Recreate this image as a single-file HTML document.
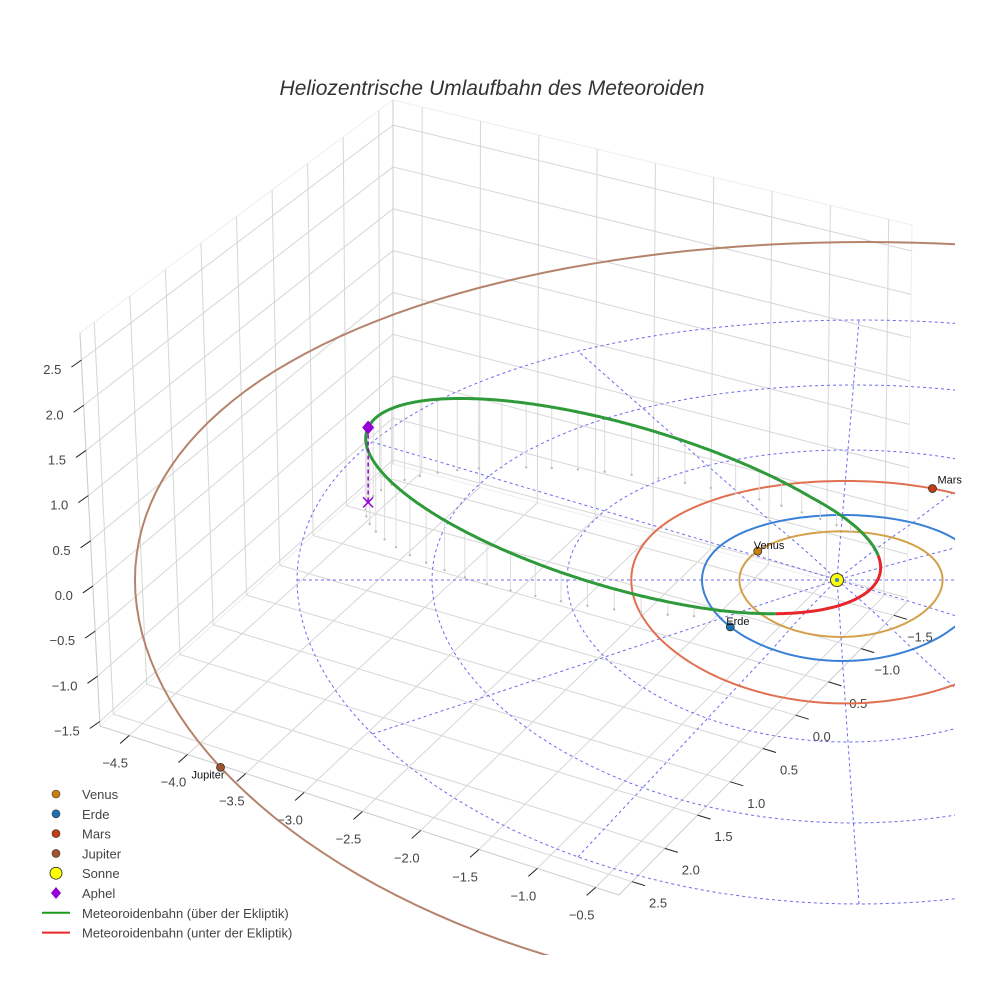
<!DOCTYPE html>
<html><head><meta charset="utf-8"><style>
html,body{margin:0;padding:0;background:#fff}
svg{display:block;font-family:"Liberation Sans",sans-serif}
</style></head><body>
<svg id="chart" width="984" height="984" viewBox="0 0 984 984" xmlns="http://www.w3.org/2000/svg">
<rect width="984" height="984" fill="#fff"/>
<defs><clipPath id="clipData"><rect x="0" y="0" width="955" height="955"/></clipPath></defs>
<text x="492" y="95" text-anchor="middle" font-size="21" font-style="italic" fill="#333">Heliozentrische Umlaufbahn des Meteoroiden</text>
<g id="box"></g>
<g id="ticks"></g>
<g id="data" clip-path="url(#clipData)"></g>
<g id="labels"></g>
<g id="legend"></g>
</svg>
<script>
// ---- data arrays ----
const zTicks = [-1.5,-1.0,-0.5,0.0,0.5,1.0,1.5,2.0,2.5];
const xTicks = [-4.5,-4.0,-3.5,-3.0,-2.5,-2.0,-1.5,-1.0,-0.5];
const yTicks = [2.5,2.0,1.5,1.0,0.5,0.0,-0.5,-1.0,-1.5];
const planetNames = ["Venus","Erde","Mars","Jupiter"];
const planetRadii = [0.723,1.0,1.524,5.2];
const planetAngles = [145,217,66,208];
const planetOrbitColors = ["#d4a04a","#3a80d6","#e07050","#b5836b"];
const planetMarkerColors = ["#c8800f","#1f6fb4","#c43c16","#a0522d"];
const ringRadii = [1,2,3,4];
const spokeAngles = [0,30,60,90,120,150];
const meteoroidCenter = [-1.60,0.585,0.4];
const meteoroidMajor = [1.88,-0.515,-0.45];
const meteoroidMinor = [0.25,0.93,0.12];

const NS='http://www.w3.org/2000/svg';
function el(tag, attrs, parent){const e=document.createElementNS(NS,tag);for(const k in attrs)e.setAttribute(k,attrs[k]);parent.appendChild(e);return e;}
const box=document.getElementById('box'), ticksG=document.getElementById('ticks'), data=document.getElementById('data'), legend=document.getElementById('legend'), labelsG=document.getElementById('labels');

const L=[100,726],F=[619,895],R=[907,602],B=[393,464],Bt=[393,100],Lt=[80,333],Rt=[912,225];
const XMIN=-4.75,XMAX=-0.3,YF=2.7,YB=-1.7,ZMIN=-1.55,ZMAX=2.8;
function bil(p00,p10,p11,p01,s,t){
  return [p00[0]*(1-s)*(1-t)+p10[0]*s*(1-t)+p11[0]*s*t+p01[0]*(1-s)*t,
          p00[1]*(1-s)*(1-t)+p10[1]*s*(1-t)+p11[1]*s*t+p01[1]*(1-s)*t];}
const sx=x=>(x-XMIN)/(XMAX-XMIN), ty=y=>(YF-y)/(YF-YB), tz=z=>(z-ZMIN)/(ZMAX-ZMIN);
function gl(a,b,col){const l=el('line',{x1:a[0],y1:a[1],x2:b[0],y2:b[1],stroke:col||'#d6d6d6','stroke-width':1},box);return l;}
el('polygon',{points:[L,B,Bt,Lt].map(p=>p.join(',')).join(' '),fill:'#fff',stroke:'#eee'},box);
el('polygon',{points:[B,R,Rt,Bt].map(p=>p.join(',')).join(' '),fill:'#fff',stroke:'#eee'},box);
for(const z of zTicks){const t=tz(z);
  const g1=gl(bil(L,B,Bt,Lt,0,t),bil(L,B,Bt,Lt,1,t));
  
  
  const g2=gl(bil(B,R,Rt,Bt,0,t),bil(B,R,Rt,Bt,1,t));
  
  }
for(const y of yTicks){const s=ty(y);
  const g=gl(bil(L,B,Bt,Lt,s,0),bil(L,B,Bt,Lt,s,1));
  
  
  const f=gl(bil(L,F,R,B,0,s),bil(L,F,R,B,1,s));
  
  }
for(const x of xTicks){const s=sx(x);
  const g=gl(bil(B,R,Rt,Bt,s,0),bil(B,R,Rt,Bt,s,1));
  
  
  const f=gl(bil(L,F,R,B,s,0),bil(L,F,R,B,s,1));
  
  }
[[L,F],[F,R],[L,Lt],[B,Bt]].forEach(p=>{const e=gl(p[0],p[1],'#ccc');});

function tk(p,dx,dy,lab,lx,ly,anchor){
  const l=el('line',{x1:p[0],y1:p[1],x2:p[0]+dx,y2:p[1]+dy,stroke:'#222','stroke-width':1},ticksG);
  
  
  const t=el('text',{x:p[0]+lx,y:p[1]+ly,'font-size':13,fill:'#444','text-anchor':anchor},ticksG);
  t.textContent=lab;
  
  }
const fmt=v=>(v<0?'\u2212':'')+Math.abs(v).toFixed(1);
for(const z of zTicks){tk(bil(L,B,Bt,Lt,0,tz(z)),-10,7,fmt(z),-20,14,'end');}
for(const x of xTicks){tk(bil(L,F,R,B,sx(x),0),-9,8,fmt(x),-14,32,'middle');}
for(const y of yTicks){tk(bil(L,F,R,B,1,ty(y)),13,4,fmt(y),26,26,'middle');}

function proj(x,y,z){const r=Math.hypot(x,y);const ky=73-8*(y/Math.max(r,1));
  return [837+5.5*r+140.5*x, 580-ky*y-88*z];}
function pathFrom(pts){return 'M'+pts.map(p=>p[0].toFixed(1)+','+p[1].toFixed(1)).join('L');}
function circlePts(r){const a=[];for(let i=0;i<=360;i+=2){const t=i*Math.PI/180;a.push(proj(r*Math.cos(t),r*Math.sin(t),0));}return a;}

ringRadii.forEach(r=>{const p=el('path',{d:pathFrom(circlePts(r)),fill:'none',stroke:'#6b6bf0','stroke-width':1,'stroke-dasharray':'3,3'},data);
  
  });
const rMax=Math.max(...ringRadii);
spokeAngles.forEach(a=>{const t=a*Math.PI/180;const pts=[];for(let i=-20;i<=20;i++){const r=rMax*i/20;pts.push(proj(r*Math.cos(t),r*Math.sin(t),0));}
  const p=el('path',{d:pathFrom(pts),fill:'none',stroke:'#6b6bf0','stroke-width':1,'stroke-dasharray':'3,3'},data);
  
  });

planetRadii.forEach((r,i)=>{const p=el('path',{d:pathFrom(circlePts(r)),fill:'none',stroke:planetOrbitColors[i],'stroke-width':2},data);
  
  });

function met(t){return [0,1,2].map(k=>meteoroidCenter[k]+meteoroidMajor[k]*Math.cos(t)+meteoroidMinor[k]*Math.sin(t));}
for(let i=0;i<60;i++){const t=i*2*Math.PI/60;const m=met(t);if(m[2]<0.08)continue;
  const a=proj(m[0],m[1],m[2]),b=proj(m[0],m[1],0);
  const l=el('line',{x1:a[0],y1:a[1],x2:b[0],y2:b[1],stroke:'#dcdcdc','stroke-width':1},data);
  
  
  const d=el('circle',{cx:b[0],cy:b[1],r:1.2,fill:'#bbb'},data);
  
  }
{let segs=[],cur=null,curSign=null;
 for(let i=0;i<=720;i++){const t=-Math.PI+i*2*Math.PI/720;const m=met(t);const s=m[2]>=0;const p=proj(m[0],m[1],m[2]);
   if(s!==curSign){if(cur)cur.pts.push(p);cur={above:s,pts:[]};segs.push(cur);curSign=s;}cur.pts.push(p);}
 segs.forEach(sg=>{const p=el('path',{d:pathFrom(sg.pts),fill:'none',stroke:sg.above?'#2e9a3a':'#e8262a','stroke-width':3},data);
   
   });}
{const ap=met(Math.PI);const a=proj(ap[0],ap[1],ap[2]),b=proj(ap[0],ap[1],0);
 const l=el('line',{x1:a[0],y1:a[1],x2:b[0],y2:b[1],stroke:'#9400d3','stroke-width':1.5,'stroke-dasharray':'4,3'},data);
 
 
 const x=el('path',{d:`M${b[0]-5},${b[1]-5}L${b[0]+5},${b[1]+5}M${b[0]-5},${b[1]+5}L${b[0]+5},${b[1]-5}`,stroke:'#9400d3','stroke-width':1.5},data);
 
 
 const d=el('path',{d:`M${a[0]},${a[1]-7}L${a[0]+6},${a[1]}L${a[0]},${a[1]+7}L${a[0]-6},${a[1]}Z`,fill:'#9400d3'},data);
 
 }
planetNames.forEach((n,i)=>{const a=planetAngles[i]*Math.PI/180,r=planetRadii[i];const p=proj(r*Math.cos(a),r*Math.sin(a),0);
  const c=el('circle',{cx:p[0],cy:p[1],r:4,fill:planetMarkerColors[i],stroke:'#333','stroke-width':0.8},data);
  
  
  const left=n==='Jupiter', right=n==='Mars';
  const t=el('text',{x:left?p[0]+4:(right?p[0]+5:p[0]-4),y:p[1]+(left?11:(right?-5:-2)),'font-size':11,fill:'#111','text-anchor':left?'end':'start'},labelsG);
  t.textContent=n;
  
  });
{const p=proj(0,0,0);const c=el('circle',{cx:p[0],cy:p[1],r:6.5,fill:'#ffff00',stroke:'#444','stroke-width':1},data);
 
 
 const d=el('circle',{cx:p[0],cy:p[1],r:2,fill:'#3a80d6'},data);
 
 }

const legendLabels=["Venus","Erde","Mars","Jupiter","Sonne","Aphel","Meteoroidenbahn (über der Ekliptik)","Meteoroidenbahn (unter der Ekliptik)"];
legendLabels.forEach((lab,i)=>{const y=795+i*19.8;let m;
  if(i<4){m=el('circle',{cx:56,cy:y-1,r:4,fill:planetMarkerColors[i],stroke:'#333','stroke-width':0.6},legend);}
  else if(i===4){m=el('circle',{cx:56,cy:y-1,r:6,fill:'#ffff00',stroke:'#444','stroke-width':1},legend);}
  else if(i===5){m=el('path',{d:`M56,${y-7}L61,${y-1}L56,${y+5}L51,${y-1}Z`,fill:'#9400d3'},legend);}
  else{m=el('line',{x1:42,y1:y-1,x2:70,y2:y-1,stroke:i===6?'#1a9a1a':'#e8262a','stroke-width':2},legend);}
  
  
  const t=el('text',{x:82,y:y+4,'font-size':13,fill:'#444'},legend);t.textContent=lab;
  
  });
</script>
</body></html>
